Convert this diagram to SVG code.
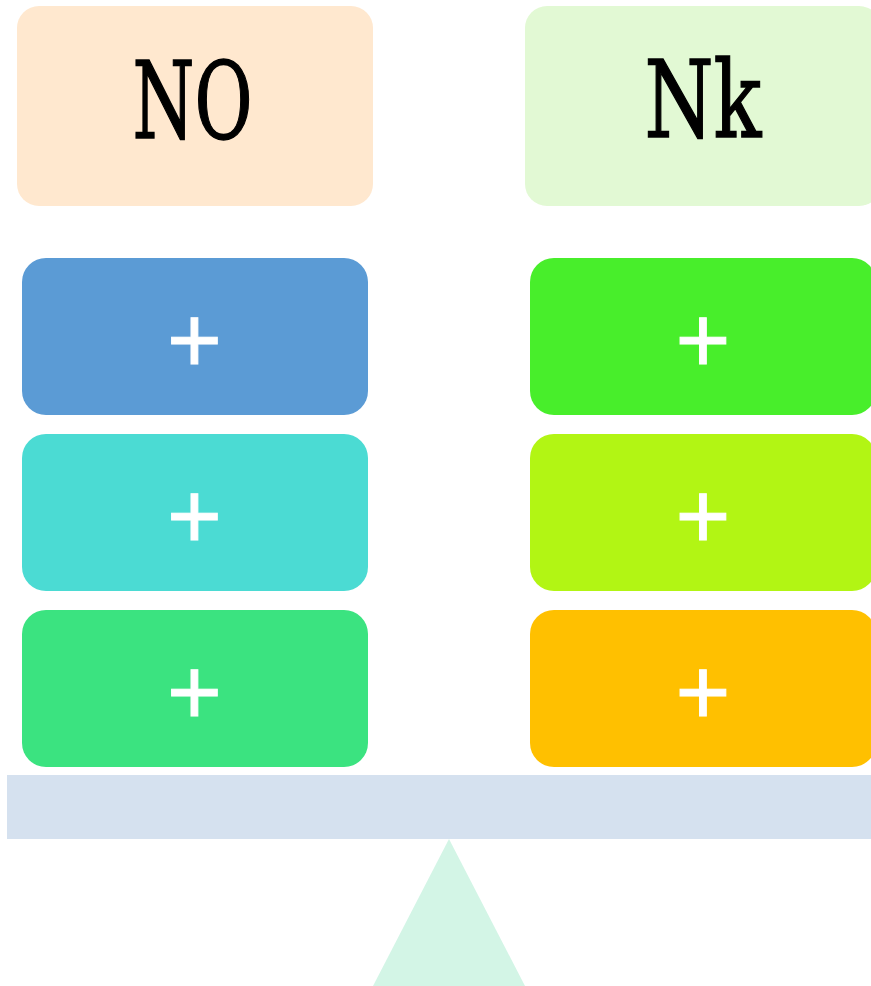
<svg xmlns="http://www.w3.org/2000/svg" width="871" height="986" viewBox="0 0 871 986">
<style>
.hdr{font-family:"DejaVu Serif","Liberation Serif",serif;font-size:107px;fill:#000;stroke:#000;stroke-width:1.5;text-anchor:middle}
.plus{font-family:"Liberation Sans","Arial",sans-serif;font-size:94px;fill:#fff;stroke:#fff;stroke-width:1;text-anchor:middle}
</style>
<rect width="871" height="986" fill="#fff"/>
<g id="beam"><rect x="7" y="775" width="870" height="64" fill="#d5e1ef"/></g>
<g id="fulcrum"><polygon points="449,839 525,986 373,986" fill="#d3f5e6"/></g>
<g id="header-left"><rect x="17" y="6" width="356" height="200" rx="22" fill="#ffe8cf"/><text class="hdr" x="192.5" y="138" textLength="120" lengthAdjust="spacingAndGlyphs">NO</text></g>
<g id="header-right"><rect x="525" y="6" width="356" height="200" rx="22" fill="#e2f9d4"/><text class="hdr" x="703" y="137" textLength="117" lengthAdjust="spacingAndGlyphs">Nk</text></g>
<g id="left-1"><rect x="22" y="258" width="346" height="157" rx="24" fill="#5b9bd5"/><text class="plus" x="194.5" y="371.5">+</text></g>
<g id="left-2"><rect x="22" y="434" width="346" height="157" rx="24" fill="#4bdbd3"/><text class="plus" x="194.5" y="547.5">+</text></g>
<g id="left-3"><rect x="22" y="610" width="346" height="157" rx="24" fill="#3be380"/><text class="plus" x="194.5" y="723.5">+</text></g>
<g id="right-1"><rect x="530" y="258" width="346" height="157" rx="24" fill="#48ee2b"/><text class="plus" x="703" y="371.5">+</text></g>
<g id="right-2"><rect x="530" y="434" width="346" height="157" rx="24" fill="#b2f514"/><text class="plus" x="703" y="547.5">+</text></g>
<g id="right-3"><rect x="530" y="610" width="346" height="157" rx="24" fill="#ffc000"/><text class="plus" x="703" y="723.5">+</text></g>
<g id="connectors"></g>
</svg>
